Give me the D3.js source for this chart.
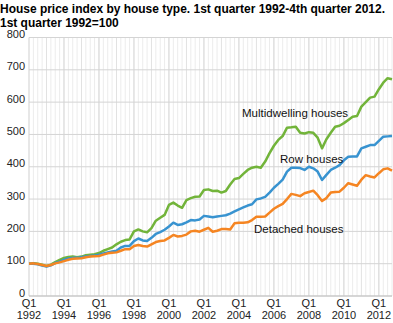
<!DOCTYPE html>
<html>
<head>
<meta charset="utf-8">
<script src="https://cdn.jsdelivr.net/npm/d3@7"></script>
<style>
  body { margin: 0; background: #fff; }
  svg { display: block; font-family: "Liberation Sans", Arial, sans-serif; }
</style>
</head>
<body>
<div id="chart"></div>
<script>
const width = 393, height = 323;

// quarterly index values, 1992Q1 .. 2012Q4 (1992Q1 = 100)
const multidwelling = [
  100, 101, 100, 97,   93, 97, 105, 112,   118, 121, 122, 120,   122, 126, 128, 129,
  133, 140, 145, 150,  160, 168, 173, 175,  200, 206, 200, 197,   210, 233, 242, 251,
  282, 289, 280, 273,  297, 303, 307, 308,  328, 330, 325, 326,   320, 325, 345, 362,
  365, 378, 390, 397,  400, 397, 416, 442,  465, 483, 495, 521,   522, 524, 505, 503,
  507, 505, 490, 457,  485, 505, 524, 527,  535, 545, 555, 557,   586, 600, 614, 617,
  640, 660, 674, 671
];
const rowHouses = [
  100, 100, 98, 94,    91, 95, 102, 106,    112, 116, 118, 118,   120, 122, 124, 125,
  128, 132, 135, 138,  140, 150, 155, 155,  170, 178, 172, 170,   180, 192, 198, 205,
  215, 227, 220, 222,  228, 235, 234, 237,  248, 246, 244, 246,   248, 250, 255, 262,
  268, 274, 280, 284,  299, 302, 307, 320,  335, 347, 360, 385,   397, 397, 396, 390,
  400, 395, 385, 359,  375, 390, 397, 405,  420, 431, 432, 432,   457, 462, 467, 467,
  480, 493, 494, 495
];
const detached = [
  100, 101, 99, 96,    93, 96, 101, 104,    108, 112, 115, 116,   117, 120, 122, 123,
  124, 128, 132, 134,  135, 140, 145, 145,  155, 158, 155, 153,   160, 167, 170, 172,
  180, 189, 184, 186,  190, 200, 202, 199,  205, 211, 199, 202,   207, 207, 206, 225,
  227, 227, 228, 235,  245, 245, 246, 258,  270, 278, 285, 300,   316, 313, 309, 318,
  322, 326, 312, 294,  303, 320, 322, 323,  335, 349, 345, 341,   360, 374, 370, 367,
  380, 392, 395, 388
];
const yTicks = [0, 100, 200, 300, 400, 500, 600, 700, 800];
const xTickYears = [1992, 1994, 1996, 1998, 2000, 2002, 2004, 2006, 2008, 2010, 2012];

const series = [
  { name: "Multidwelling houses", values: multidwelling, color: "#72b43a", lx: 242, ly: 117 },
  { name: "Row houses", values: rowHouses, color: "#3893d0", lx: 280, ly: 163 },
  { name: "Detached houses", values: detached, color: "#f58522", lx: 254, ly: 233 }
];

const margin = { left: 29, right: 1, top: 37.5, bottom: 27 };
const nQ = multidwelling.length;

const x = d3.scaleLinear().domain([0, nQ - 1]).range([margin.left, width - margin.right]);
const y = d3.scaleLinear().domain([0, 800]).range([height - margin.bottom, margin.top]);

const svg = d3.select("#chart").append("svg")
  .attr("width", width)
  .attr("height", height);

// title: tall bold glyphs squeezed horizontally so line one spans ~385px
const titleLines = ["House price index by house type. 1st quarter 1992-4th quarter 2012.", "1st quarter 1992=100"];
const title = svg.append("g").selectAll("text")
  .data(titleLines)
  .enter().append("text")
  .attr("x", 0).attr("y", (d, i) => 12.5 + i * 14.5)
  .attr("font-size", 12).attr("font-weight", "bold").attr("fill", "#000")
  .text(d => d);
const squeeze = 385 / title.node().getComputedTextLength();
title.each(function () {
  const w = this.getComputedTextLength();
  d3.select(this)
    .attr("textLength", w * squeeze)
    .attr("lengthAdjust", "spacingAndGlyphs");
});

// vertical grid: every quarter light, every second Q1 darker
const grid = svg.append("g");
grid.selectAll(".vq")
  .data(d3.range(nQ))
  .enter().append("line")
  .attr("x1", d => x(d)).attr("x2", d => x(d))
  .attr("y1", y(800)).attr("y2", y(0))
  .attr("stroke", d => d % 8 === 0 ? "#cfcfcf" : (d % 4 === 0 ? "#e2e2e2" : "#ececec"))
  .attr("stroke-width", 1);

// horizontal grid
grid.selectAll(".hy")
  .data(yTicks)
  .enter().append("line")
  .attr("x1", margin.left).attr("x2", width - margin.right)
  .attr("y1", d => y(d)).attr("y2", d => y(d))
  .attr("stroke", d => d === 0 ? "#c8c8c8" : "#d4d4d4")
  .attr("stroke-width", d => d === 0 ? 1.5 : 1);

// y labels
svg.append("g").selectAll("text")
  .data(yTicks)
  .enter().append("text")
  .attr("x", margin.left - 4).attr("y", d => y(d) + 0.5)
  .attr("text-anchor", "end")
  .attr("font-size", 11).attr("fill", "#222")
  .text(d => d);

// x labels, two lines
const xl = svg.append("g").selectAll("text")
  .data(xTickYears)
  .enter().append("text")
  .attr("text-anchor", "middle")
  .attr("font-size", 11).attr("fill", "#222");
xl.append("tspan")
  .attr("x", d => x((d - 1992) * 4)).attr("y", 307)
  .text("Q1");
xl.append("tspan")
  .attr("x", d => x((d - 1992) * 4)).attr("y", 319)
  .text(d => d);

// lines
const line = d3.line()
  .x((d, i) => x(i))
  .y(d => y(d));

svg.append("g").selectAll("path")
  .data(series)
  .enter().append("path")
  .attr("d", d => line(d.values))
  .attr("fill", "none")
  .attr("stroke", d => d.color)
  .attr("stroke-width", 2.5)
  .attr("stroke-linejoin", "round");

// series labels
svg.append("g").selectAll("text")
  .data(series)
  .enter().append("text")
  .attr("x", d => d.lx).attr("y", d => d.ly)
  .attr("font-size", 11.5).attr("fill", "#111")
  .text(d => d.name);
</script>
</body>
</html>
